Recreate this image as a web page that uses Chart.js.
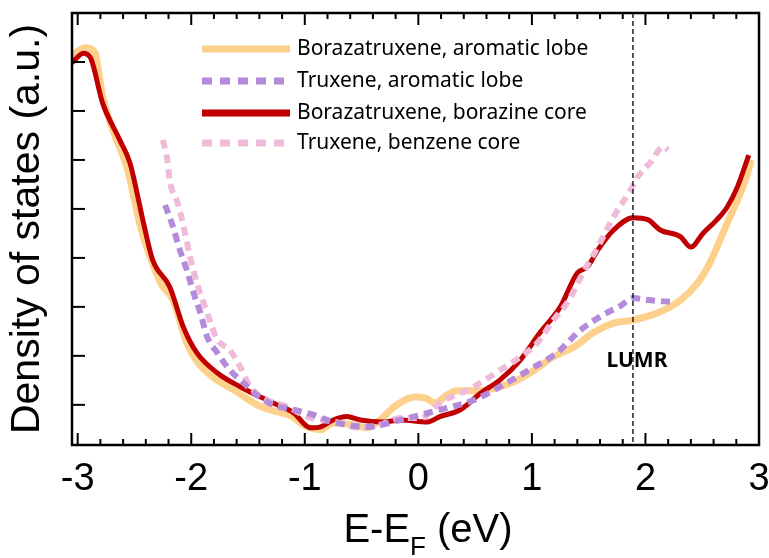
<!DOCTYPE html>
<html>
<head>
<meta charset="utf-8">
<script src="https://cdn.jsdelivr.net/npm/chart.js@4"></script>
<style>
    body { margin: 0; background: #fff; }
    #wrap { width: 769px; height: 558px; }
</style>
</head>
<body>
<div id="wrap"><canvas id="dos" width="769" height="558"></canvas></div>
<script>
// Eksen etiketleri ve seriler
const xTicks = [-3, -2, -1, 0, 1, 2, 3];
const yTicks = [1, 2, 3, 4, 5, 6, 7, 8, 9];
const lumrEnergy = 1.89;

const seriesLabels = [
    "Borazatruxene, aromatic lobe",
    "Truxene, aromatic lobe",
    "Borazatruxene, borazine core",
    "Truxene, benzene core"
];

// Borazatruxene, aromatic lobe
const boraLobeX = [-3.05, -2.93, -2.85, -2.78, -2.69, -2.56, -2.45, -2.27, -2.16, -2.04, -1.94, -1.81, -1.63, -1.42, -1.28, -1.13,
    -0.98, -0.86, -0.75, -0.57, -0.45, -0.34, -0.19, -0.03, 0.06, 0.15, 0.24, 0.34, 0.55, 0.72, 0.84, 1.01, 1.19, 1.37, 1.54, 1.72,
    1.89, 2.11, 2.31, 2.46, 2.55, 2.63, 2.72, 2.81, 2.90, 2.93];
const boraLobeY = [8.14, 8.29, 8.20, 7.29, 6.61, 5.80, 4.67, 3.49, 3.14, 2.27, 1.86, 1.57, 1.31, 1.00, 0.88, 0.78,
    0.55, 0.49, 0.63, 0.59, 0.53, 0.69, 1.00, 1.16, 1.14, 1.04, 1.18, 1.29, 1.29, 1.37, 1.47, 1.69, 1.98, 2.18, 2.47, 2.67,
    2.73, 2.88, 3.14, 3.49, 3.82, 4.22, 4.71, 5.18, 5.73, 6.00];

// Truxene, aromatic lobe
const truxLobeX = [-2.23, -2.16, -2.10, -2.04, -1.98, -1.92, -1.86, -1.77, -1.66, -1.54, -1.42, -1.28, -1.10, -0.93, -0.75, -0.45,
    -0.16, 0.19, 0.49, 0.78, 1.01, 1.22, 1.43, 1.63, 1.78, 1.89, 2.02, 2.24];
const truxLobeY = [5.08, 4.63, 4.16, 3.76, 3.29, 2.88, 2.39, 2.06, 1.71, 1.45, 1.20, 1.00, 0.90, 0.80, 0.65, 0.55,
    0.69, 0.90, 1.10, 1.45, 1.76, 2.06, 2.53, 2.84, 3.02, 3.18, 3.14, 3.10];

// Borazatruxene, borazine core
const boraCoreX = [-3.05, -2.95, -2.89, -2.78, -2.63, -2.54, -2.42, -2.34, -2.19, -2.07, -1.95, -1.77, -1.57, -1.28, -1.10, -0.95,
    -0.86, -0.75, -0.63, -0.51, -0.31, -0.16, 0.08, 0.19, 0.37, 0.55, 0.72, 0.90, 1.07, 1.25, 1.40, 1.49, 1.58, 1.72, 1.89,
    2.02, 2.13, 2.31, 2.40, 2.51, 2.63, 2.72, 2.81, 2.91];
const boraCoreY = [7.98, 8.18, 8.10, 7.16, 6.41, 5.94, 4.71, 3.96, 3.41, 2.59, 2.06, 1.65, 1.37, 1.04, 0.84, 0.53,
    0.55, 0.69, 0.76, 0.69, 0.65, 0.69, 0.65, 0.76, 0.90, 1.24, 1.51, 1.92, 2.47, 3.00, 3.69, 3.82, 4.16, 4.57, 4.82,
    4.78, 4.57, 4.43, 4.22, 4.51, 4.78, 5.04, 5.45, 6.10];

// Truxene, benzene core
const truxCoreX = [-2.25, -2.21, -2.19, -2.12, -2.07, -2.01, -1.95, -1.86, -1.77, -1.66, -1.57, -1.48, -1.33, -1.15, -0.98, -0.69,
    -0.54, -0.34, -0.16, 0.02, 0.19, 0.49, 0.72, 0.90, 1.05, 1.19, 1.31, 1.45, 1.58, 1.72, 1.87, 1.93, 2.04, 2.16, 2.20];
const truxCoreY = [6.41, 6.00, 5.59, 5.12, 4.67, 4.02, 3.49, 2.88, 2.33, 2.12, 1.78, 1.37, 1.10, 0.96, 0.76, 0.63,
    0.53, 0.59, 0.73, 0.73, 1.04, 1.37, 1.71, 1.98, 2.27, 2.73, 3.08, 3.69, 4.22, 4.84, 5.39, 5.65, 5.94, 6.27, 6.20];

const seriesColors = ["#FDD08C", "#B48BDA", "#C00000", "#F0BAD9"];

function toPoints(xs, ys) {
    return xs.map((x, i) => ({ x, y: ys[i] }));
}

const AXIS_FONT = "'Liberation Sans', Arial, sans-serif";

// Çerçeve, iç tikler, LUMR çizgisi, lejant ve x başlığı
const decorations = {
    id: "decorations",
    afterDatasetsDraw(chart) {
        const { ctx, chartArea: a, scales: { x, y } } = chart;
        ctx.save();

        // LUMR kesikli çizgi
        const lx = x.getPixelForValue(lumrEnergy);
        ctx.strokeStyle = "#000";
        ctx.lineWidth = 1.3;
        ctx.setLineDash([5, 3]);
        ctx.beginPath();
        ctx.moveTo(lx, a.top);
        ctx.lineTo(lx, a.bottom);
        ctx.stroke();
        ctx.setLineDash([]);

        ctx.fillStyle = "#000";
        ctx.font = "bold 21px 'Noto Sans'";
        ctx.textAlign = "center";
        ctx.textBaseline = "alphabetic";
        ctx.fillText("LUMR", x.getPixelForValue(lumrEnergy + 0.035), y.getPixelForValue(1.78));

        // çerçeve
        ctx.lineWidth = 2.5;
        ctx.strokeRect(a.left, a.top, a.width, a.height);

        // x tikleri (alt ve üst, içe doğru)
        ctx.lineWidth = 2;
        for (let i = -15; i <= 15; i++) {
            const px = x.getPixelForValue(i / 5);
            if (px < a.left) continue;
            const len = i % 5 === 0 ? 12 : 6;
            ctx.beginPath();
            ctx.moveTo(px, a.bottom);
            ctx.lineTo(px, a.bottom - len);
            ctx.moveTo(px, a.top);
            ctx.lineTo(px, a.top + len);
            ctx.stroke();
        }
        // y tikleri (sol)
        yTicks.forEach((v) => {
            const py = y.getPixelForValue(v);
            if (py <= a.top + 1) return;
            ctx.beginPath();
            ctx.moveTo(a.left, py);
            ctx.lineTo(a.left + 13, py);
            ctx.stroke();
        });

        // lejant
        const rows = [49, 81, 113, 143];
        const dashed = [false, true, false, true];
        ctx.font = "21px 'Noto Sans'";
        ctx.textAlign = "left";
        ctx.textBaseline = "middle";
        seriesLabels.forEach((label, i) => {
            ctx.strokeStyle = seriesColors[i];
            ctx.lineWidth = 7;
            ctx.setLineDash(dashed[i] ? [10, 8] : []);
            ctx.beginPath();
            ctx.moveTo(202, rows[i]);
            ctx.lineTo(290, rows[i]);
            ctx.stroke();
            ctx.setLineDash([]);
            ctx.fillStyle = "#000";
            ctx.fillText(label, 297, rows[i]);
        });

        ctx.restore();
    },
    afterDraw(chart) {
        // x başlığı: E-E_F (eV)
        const { ctx } = chart;
        ctx.save();
        ctx.fillStyle = "#000";
        ctx.textBaseline = "alphabetic";
        ctx.textAlign = "left";
        const big = `40px ${AXIS_FONT}`;
        const small = `26px ${AXIS_FONT}`;
        ctx.font = big;
        const w1 = ctx.measureText("E-E").width;
        const w3 = ctx.measureText(" (eV)").width;
        ctx.font = small;
        const w2 = ctx.measureText("F").width;
        const total = w1 + w2 + w3;
        let sx = 428 - total / 2;
        const base = 542;
        ctx.font = big;
        ctx.fillText("E-E", sx, base);
        sx += w1;
        ctx.font = small;
        ctx.fillText("F", sx, base + 13);
        sx += w2;
        ctx.font = big;
        ctx.fillText(" (eV)", sx, base);
        ctx.restore();
    }
};

const ctx = document.getElementById("dos").getContext("2d");
new Chart(ctx, {
    type: "line",
    data: {
        datasets: [
            {
                label: seriesLabels[0],
                data: toPoints(boraLobeX, boraLobeY),
                borderColor: seriesColors[0],
                borderWidth: 7,
                order: 4
            },
            {
                label: seriesLabels[1],
                data: toPoints(truxLobeX, truxLobeY),
                borderColor: seriesColors[1],
                borderWidth: 6,
                borderDash: [9, 6],
                order: 1
            },
            {
                label: seriesLabels[2],
                data: toPoints(boraCoreX, boraCoreY),
                borderColor: seriesColors[2],
                borderWidth: 5,
                order: 3
            },
            {
                label: seriesLabels[3],
                data: toPoints(truxCoreX, truxCoreY),
                borderColor: seriesColors[3],
                borderWidth: 6,
                borderDash: [9, 6],
                order: 2
            }
        ]
    },
    options: {
        responsive: false,
        animation: false,
        devicePixelRatio: 1,
        elements: {
            point: { radius: 0 },
            line: { cubicInterpolationMode: "monotone", borderJoinStyle: "round" }
        },
        layout: { padding: { top: 13, right: 0, left: 0, bottom: 0 } },
        plugins: {
            legend: { display: false },
            tooltip: { enabled: false }
        },
        scales: {
            x: {
                type: "linear",
                min: -3.05,
                max: 3.0,
                grid: { display: false },
                border: { display: false },
                afterBuildTicks: (s) => { s.ticks = xTicks.map((v) => ({ value: v })); },
                afterFit: (s) => {
                    s.height = 113;
                    s.paddingLeft = 0;
                    s.paddingRight = 10;
                },
                ticks: {
                    font: { family: AXIS_FONT, size: 38 },
                    color: "#000",
                    padding: 4,
                    maxRotation: 0,
                    autoSkip: false
                }
            },
            y: {
                type: "linear",
                min: 0.18,
                max: 9,
                grid: { display: false },
                border: { display: false },
                afterBuildTicks: (s) => { s.ticks = yTicks.map((v) => ({ value: v })); },
                afterFit: (s) => { s.width = 72; },
                ticks: { display: false },
                title: {
                    display: true,
                    text: "Density of states (a.u.)",
                    color: "#000",
                    font: { family: AXIS_FONT, size: 41, lineHeight: 1 },
                    padding: { top: 7, bottom: 0 }
                }
            }
        }
    },
    plugins: [decorations]
});
</script>
</body>
</html>
